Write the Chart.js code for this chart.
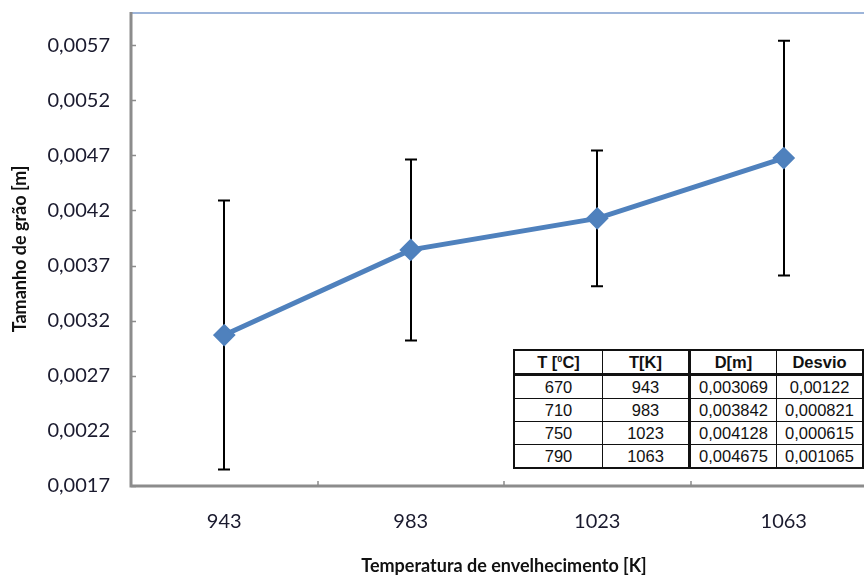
<!DOCTYPE html>
<html>
<head>
<meta charset="utf-8">
<script src="https://cdn.jsdelivr.net/npm/chart.js@4.4.1/dist/chart.umd.min.js"></script>
<style>
  html, body { margin: 0; padding: 0; background: #fff; overflow: hidden; }
  .wrap { position: relative; width: 889px; height: 578px; }
  .wrap canvas { position: absolute; left: 0; top: 0; }
  table.dados {
    position: absolute; left: 513px; top: 349px;
    border-collapse: collapse; background: #fff;
    font-family: "Liberation Sans", Arial, sans-serif; font-size: 16.5px; color: #111;
    border: 2px solid #111;
  }
  table.dados td, table.dados th {
    border: 1px solid #111; height: 22px; padding: 0; text-align: center;
  }
  table.dados th { font-weight: bold; border-bottom: 3px solid #111; }
  table.dados .c1 { width: 87px; }
  table.dados .c2 { width: 85px; border-right: 3px solid #111; }
  table.dados .c3 { width: 85px; }
  table.dados .c4 { width: 85px; }
</style>
</head>
<body>
<div class="wrap">
  <canvas id="grafico" width="889" height="578"></canvas>
  <table class="dados" id="tabela"></table>
</div>
<script>
// dados
const tempC = [670, 710, 750, 790];
const tempK = ["943", "983", "1023", "1063"];
const diametro = [0.003069, 0.003842, 0.004128, 0.004675];
const desvio = [0.00122, 0.000821, 0.000615, 0.001065];
const yTicks = [0.0017, 0.0022, 0.0027, 0.0032, 0.0037, 0.0042, 0.0047, 0.0052, 0.0057];
const tabelaCab = ["T [\u2070C]", "T[K]", "D[m]", "Desvio"];

const azul = "#4F81BD";
const virgula = v => String(v).replace(".", ",");

// monta a tabela sobreposta
const tab = document.getElementById("tabela");
let html = "<tr>" + tabelaCab.map((h, i) => `<th class="c${i + 1}">${h}</th>`).join("") + "</tr>";
for (let i = 0; i < tempC.length; i++) {
  html += `<tr><td class="c1">${tempC[i]}</td><td class="c2">${tempK[i]}</td>` +
    `<td class="c3">${virgula(diametro[i])}</td><td class="c4">${virgula(desvio[i])}</td></tr>`;
}
tab.innerHTML = html;
tab.rows[0].cells[0].innerHTML = "T [<sup style='font-size:9px'>0</sup>C]";

// barras de erro, eixos e marcas de escala
const errorBars = {
  id: "errorBars",
  beforeDatasetsDraw(chart) {
    const { ctx, scales: { x, y } } = chart;
    ctx.save();
    ctx.strokeStyle = "#000";
    ctx.lineWidth = 2;
    diametro.forEach((d, i) => {
      const px = Math.round(x.getPixelForValue(i));
      const top = y.getPixelForValue(d + desvio[i]);
      const bot = y.getPixelForValue(d - desvio[i]);
      ctx.beginPath();
      ctx.moveTo(px, top); ctx.lineTo(px, bot);
      ctx.moveTo(px - 6, top); ctx.lineTo(px + 6, top);
      ctx.moveTo(px - 6, bot); ctx.lineTo(px + 6, bot);
      ctx.stroke();
    });
    ctx.restore();
  },
  afterDraw(chart) {
    const { ctx, chartArea: a, scales: { x, y } } = chart;
    ctx.save();
    // borda superior azul clara
    ctx.strokeStyle = "#9DB5DA";
    ctx.lineWidth = 2;
    ctx.beginPath(); ctx.moveTo(a.left, a.top + 1); ctx.lineTo(a.right, a.top + 1); ctx.stroke();
    // eixos cinzas
    ctx.strokeStyle = "#8C8C8C";
    ctx.lineWidth = 3;
    ctx.beginPath();
    ctx.moveTo(a.left, a.top); ctx.lineTo(a.left, a.bottom); ctx.lineTo(a.right, a.bottom);
    ctx.stroke();
    ctx.lineWidth = 1.5;
    ctx.beginPath();
    yTicks.forEach(v => {
      const py = Math.round(y.getPixelForValue(v)) + 0.5;
      ctx.moveTo(a.left, py); ctx.lineTo(a.left + 5, py);
    });
    for (let i = 1; i < tempK.length; i++) {
      const px = Math.round((x.getPixelForValue(i - 1) + x.getPixelForValue(i)) / 2);
      ctx.moveTo(px, a.bottom); ctx.lineTo(px, a.bottom - 5);
    }
    ctx.stroke();
    ctx.restore();
  }
};

new Chart("grafico", {
  type: "line",
  data: {
    labels: tempK,
    datasets: [{
      data: diametro,
      borderColor: azul,
      backgroundColor: azul,
      borderWidth: 5,
      pointStyle: "rectRot",
      pointRadius: 10,
      pointBorderWidth: 2,
      pointBackgroundColor: azul,
      pointBorderColor: azul,
      tension: 0
    }]
  },
  options: {
    responsive: false,
    animation: false,
    layout: { padding: { top: 10, right: 0, left: 0, bottom: 0 } },
    plugins: { legend: { display: false }, tooltip: { enabled: false } },
    scales: {
      x: {
        offset: true,
        grid: { display: false, drawTicks: false },
        border: { display: false },
        ticks: { color: "#1a1a2e", font: { family: "Lato", size: 20 }, padding: 24 },
        title: {
          display: true, text: "Temperatura de envelhecimento [K]", color: "#111",
          font: { family: "Lato", size: 18, weight: "bold" }, padding: { top: 0, bottom: 1 }
        },
        afterFit(s) { s.height = 92; s.paddingLeft = 0; s.paddingRight = 0; }
      },
      y: {
        min: 0.0017,
        max: 0.006,
        grid: { display: false, drawTicks: false },
        border: { display: false },
        afterBuildTicks(s) { s.ticks = yTicks.map(v => ({ value: v })); },
        ticks: {
          color: "#1a1a2e", font: { family: "Lato", size: 20 }, padding: 21,
          callback: v => virgula(v.toFixed(4))
        },
        title: {
          display: true, text: "Tamanho de grão [m]", color: "#111",
          font: { family: "Lato", size: 18, weight: "bold" }, padding: { top: 9, bottom: 0 }
        },
        afterFit(s) { s.width = 131; s.paddingTop = 0; s.paddingBottom = 0; }
      }
    }
  },
  plugins: [errorBars]
});
</script>
</body>
</html>
